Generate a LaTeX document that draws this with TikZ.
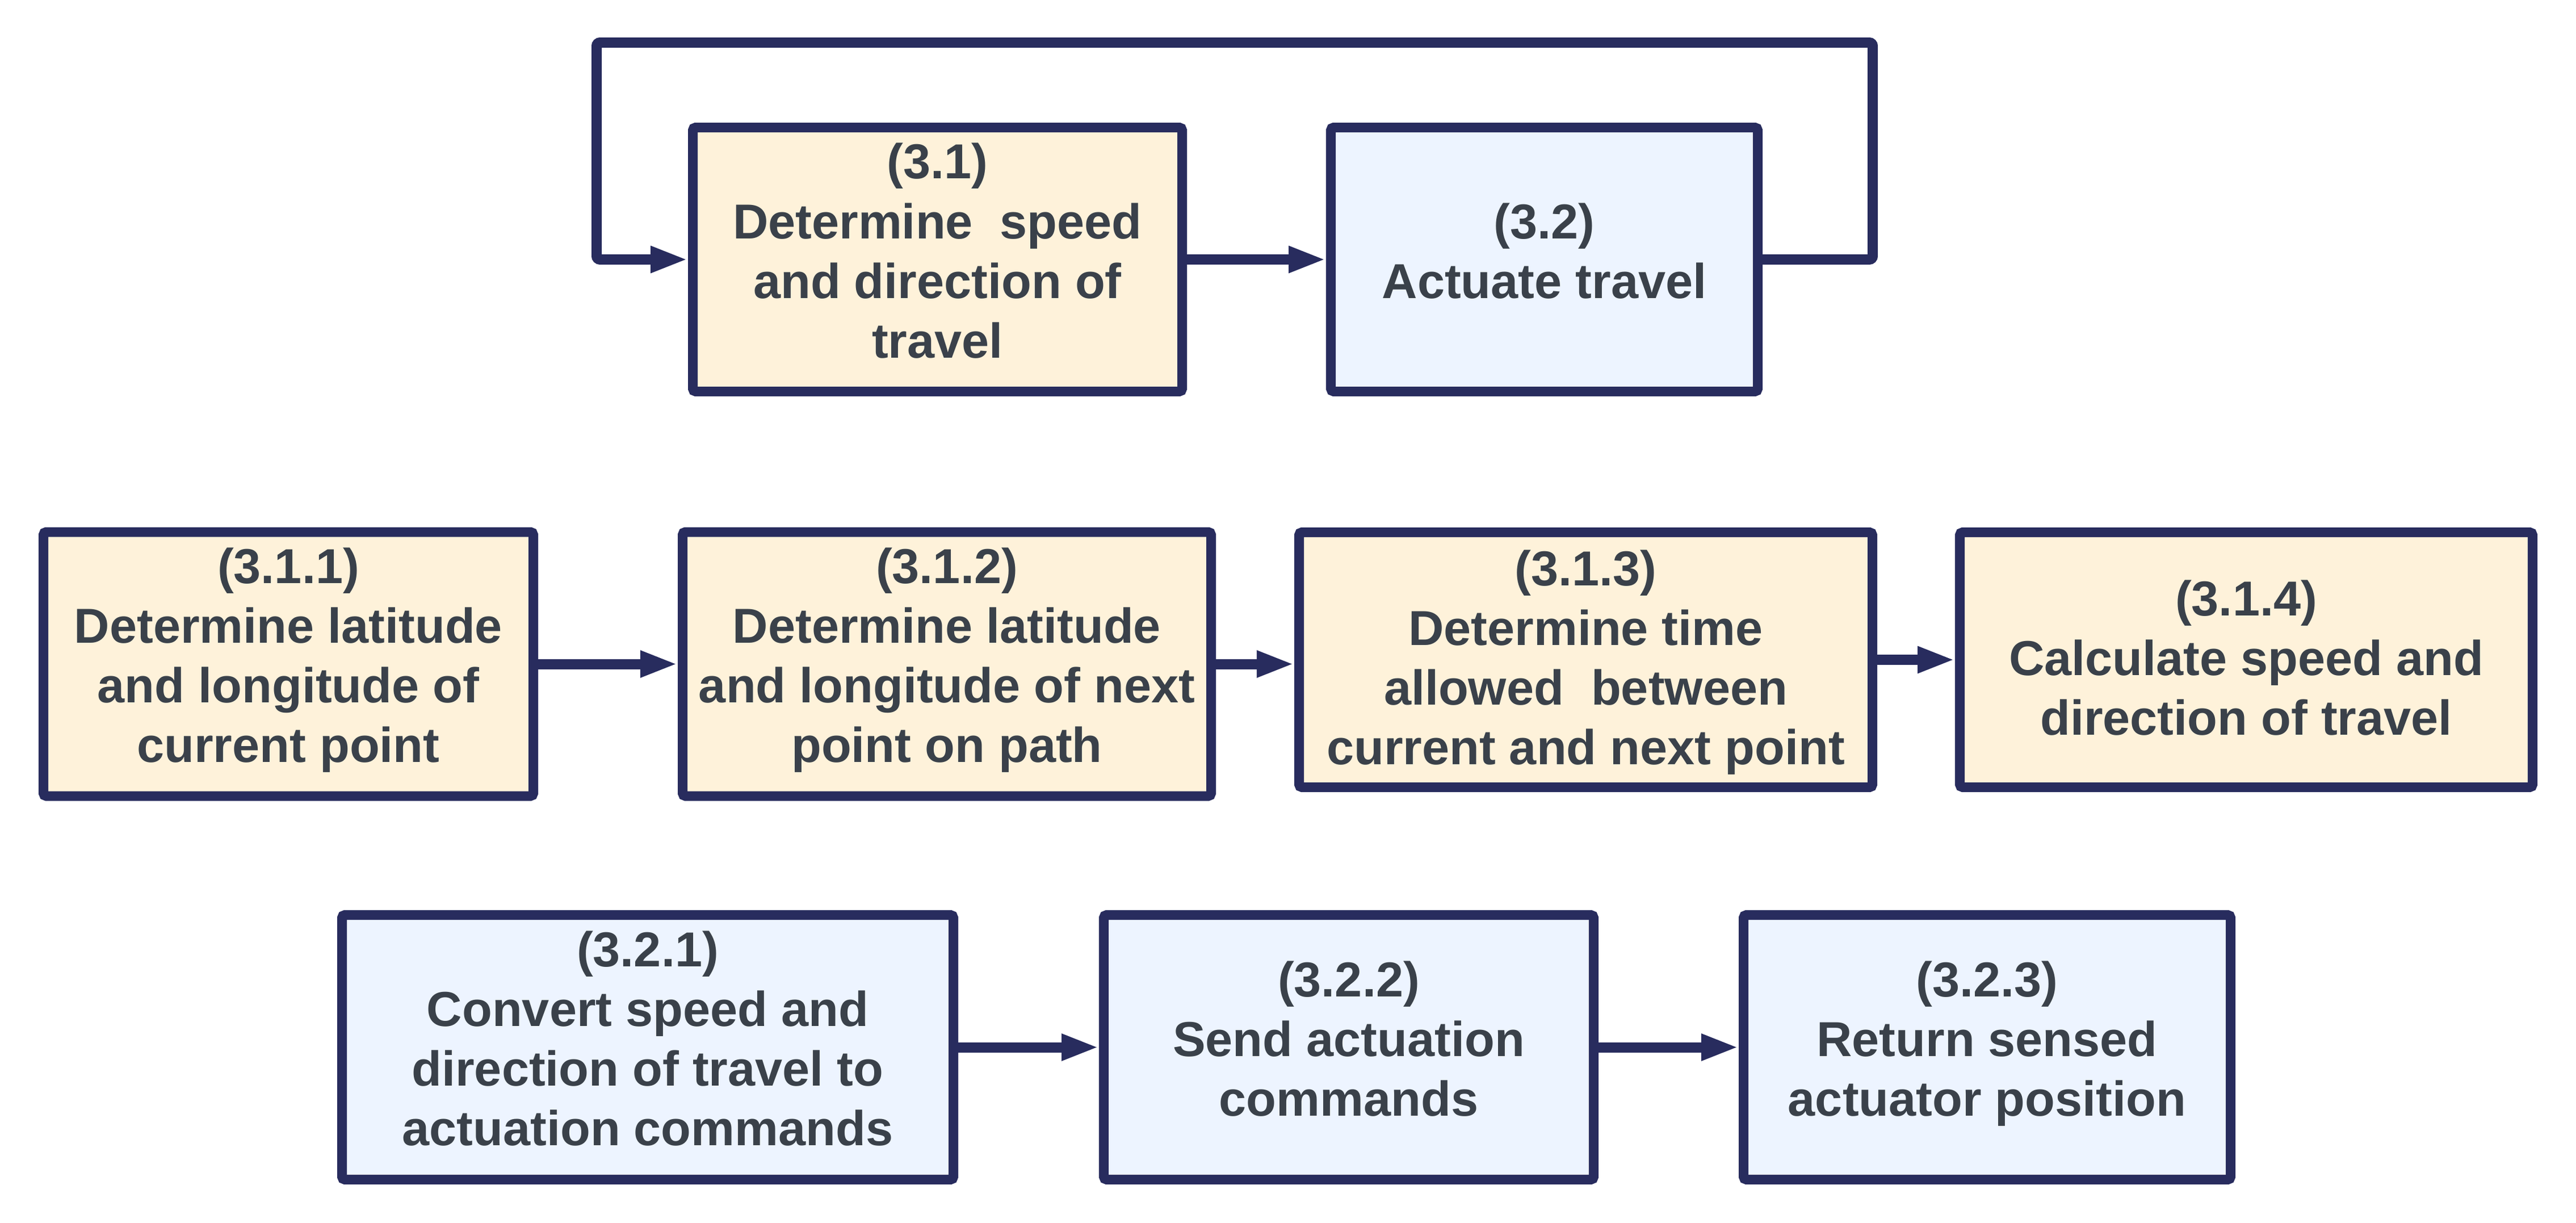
\documentclass[tikz,border=0pt]{standalone}
\usepackage{fontspec}
\setmainfont{Liberation Sans}
\usepackage{xcolor}
\usepackage{tikz}
\usetikzlibrary{arrows.meta,positioning,calc}

\definecolor{navy}{HTML}{282C5E}
\definecolor{planfill}{HTML}{FEF2DA}
\definecolor{actfill}{HTML}{EDF4FF}
\definecolor{textgrey}{HTML}{3A414A}
\newcommand{\toppad}{\rule{0pt}{0.86cm}}

\begin{document}
\begin{tikzpicture}[
  box/.style={rectangle, draw=navy, line width=0.17cm, rounded corners=0.05cm, minimum height=4.65cm, align=center, inner sep=2pt, text=textgrey, font=\fontsize{24.6}{29.9}\selectfont\bfseries, execute at begin node=\strut, execute at end node=\strut},
  planbox/.style={box, fill=planfill},
  actbox/.style={box, fill=actfill},
  arrow/.style={-{Triangle[length=0.66cm, width=0.43cm]}, line width=0.18cm, color=navy},
]
\useasboundingbox (0,0) rectangle (45.38,-21.53);

\node[planbox, minimum width=8.62cm] (detspeed) at (16.515,-4.57) {(3.1)\\Determine~ speed\\and direction of\\travel};
\node[actbox, minimum width=7.52cm, right=2.45cm of detspeed] (actuate) {(3.2)\\Actuate travel};

\node[planbox, minimum width=8.63cm] (curpoint) at (5.08,-11.695) {(3.1.1)\\Determine latitude\\and longitude of\\current point};
\node[planbox, minimum width=9.31cm, right=2.46cm of curpoint] (nextpoint) {(3.1.2)\\Determine latitude\\and longitude of next\\point on path};
\node[planbox, minimum width=10.10cm, minimum height=4.49cm, right=1.38cm of nextpoint, yshift=0.075cm] (timeallowed) {\toppad(3.1.3)\\Determine time\\allowed~ between\\current and next point};
\node[planbox, minimum width=10.09cm, minimum height=4.49cm, right=1.37cm of timeallowed] (calcspeed) {\toppad(3.1.4)\\Calculate speed and\\direction of travel};

\node[actbox, minimum width=10.77cm, minimum height=4.66cm] (convert) at (11.41,-18.445) {(3.2.1)\\Convert speed and\\direction of travel to\\actuation commands};
\node[actbox, minimum width=8.63cm, minimum height=4.66cm, right=2.48cm of convert] (sendcmd) {(3.2.2)\\Send actuation\\commands};
\node[actbox, minimum width=8.58cm, minimum height=4.66cm, right=2.47cm of sendcmd] (sensepos) {(3.2.3)\\Return sensed\\actuator position};

\coordinate (loopne) at (32.99,-0.75);
\coordinate (loopnw) at (10.51,-0.75);

\draw[arrow] (detspeed) -- (actuate);
\draw[arrow, rounded corners=0.06cm] (actuate.east) -- (actuate.east -| loopne) -- (loopne) -- (loopnw) -- (loopnw |- detspeed.west) -- (detspeed.west);
\draw[arrow] (curpoint) -- (nextpoint);
\draw[arrow] (nextpoint.east) -- (nextpoint.east -| timeallowed.west);
\draw[arrow] (timeallowed) -- (calcspeed);
\draw[arrow] (convert) -- (sendcmd);
\draw[arrow] (sendcmd) -- (sensepos);
\end{tikzpicture}
\end{document}
